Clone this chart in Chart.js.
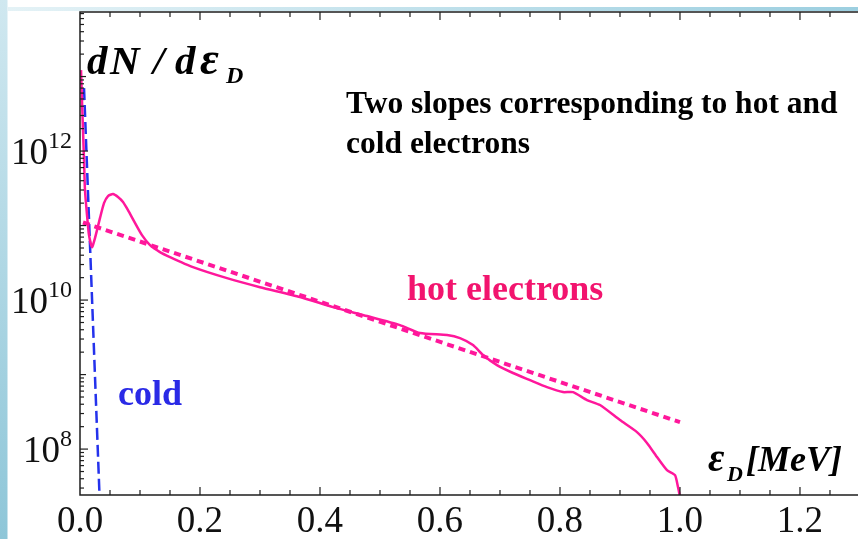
<!DOCTYPE html>
<html lang="en">
<head>
<meta charset="UTF-8">
<title>Electron energy spectrum</title>
<script src="https://cdn.jsdelivr.net/npm/chart.js"></script>
<style>
  html, body { margin: 0; padding: 0; background: #fff; }
  #wrap { width: 858px; height: 539px; position: relative; }
</style>
</head>
<body>
<div id="wrap"><canvas id="spectrumChart"></canvas></div>
<script>
  // measured spectrum dN/dE, energy in MeV
  const energy = [0.0017, 0.0033, 0.005, 0.0067, 0.0083, 0.0117, 0.015, 0.02, 0.025, 0.0333,
    0.04, 0.0467, 0.055, 0.0633, 0.0717, 0.08, 0.09, 0.1033, 0.1167, 0.1333,
    0.15, 0.1883, 0.245, 0.3, 0.3667, 0.4217, 0.4783, 0.5333, 0.5667, 0.6117,
    0.6333, 0.655, 0.6717, 0.695, 0.7217, 0.75, 0.7783, 0.805, 0.8217, 0.845,
    0.8667, 0.9, 0.9283, 0.945, 0.9617, 0.9783, 0.9917, 0.9967, 1.0];
  const hotCounts = [1.22e13, 4.84e12, 1.91e12, 7.57e11, 3.00e11, 1.38e11, 7.45e10, 5.14e10, 6.79e10, 1.26e11,
    2.00e11, 2.49e11, 2.65e11, 2.42e11, 2.07e11, 1.61e11, 1.15e11, 7.45e10, 5.47e10, 4.41e10,
    3.78e10, 2.77e10, 1.97e10, 1.49e10, 1.10e10, 8.05e9, 6.10e9, 4.61e9, 3.61e9, 3.39e9,
    3.09e9, 2.49e9, 1.83e9, 1.34e9, 1.05e9, 8.43e8, 6.79e8, 5.82e8, 5.82e8, 4.55e8,
    3.90e8, 2.45e8, 1.69e8, 1.21e8, 7.82e7, 5.22e7, 4.48e7, 3.09e7, 2.27e7];

  // exponential fits (straight lines on the log axis)
  const hotFitEnergy = [0.005, 1.0];
  const hotFitCounts = [1.10e11, 2.30e8];
  const coldFitEnergy = [0.0067, 0.0325];
  const coldFitCounts = [7.0e12, 2.42e7];

  const xLabelValues = [0, 0.2, 0.4, 0.6, 0.8, 1.0, 1.2];
  const yLabelPowers = [8, 10, 12];

  const pink = '#ff179b';
  const blue = '#2432ec';
  const frameColor = '#1e1e1e';
  const serif = '"Liberation Serif", "Times New Roman", serif';

  function toPoints(xs, ys) {
    return xs.map((x, i) => ({ x: x, y: ys[i] }));
  }

  function isLabelled(v) {
    return xLabelValues.some(l => Math.abs(l - v) < 1e-6);
  }

  // slide background: blue strip on the left and thin band along the top
  const backdrop = {
    id: 'backdrop',
    beforeDraw(chart) {
      const ctx = chart.ctx;
      ctx.save();
      let g = ctx.createLinearGradient(0, 0, 0, chart.height);
      g.addColorStop(0, '#d0e8f0');
      g.addColorStop(1, '#8ec6d8');
      ctx.fillStyle = g;
      ctx.fillRect(0, 0, 7.5, chart.height);
      g = ctx.createLinearGradient(7.5, 0, chart.width, 0);
      g.addColorStop(0, '#e4f2f6');
      g.addColorStop(1, '#9ccfe0');
      ctx.fillStyle = g;
      ctx.fillRect(7.5, 7, chart.width, 4);
      ctx.restore();
    }
  };

  // Mathematica-style frame with inward ticks, y labels and annotations
  const frame = {
    id: 'frame',
    afterDraw(chart) {
      const ctx = chart.ctx;
      const a = chart.chartArea;
      const xs = chart.scales.x;
      const ys = chart.scales.y;
      ctx.save();
      ctx.strokeStyle = frameColor;
      ctx.lineWidth = 1.5;
      ctx.beginPath();
      ctx.moveTo(chart.width, a.top);
      ctx.lineTo(a.left, a.top);
      ctx.lineTo(a.left, a.bottom);
      ctx.lineTo(chart.width, a.bottom);
      ctx.stroke();

      // x ticks, bottom and top
      ctx.lineWidth = 1.2;
      xs.ticks.forEach(t => {
        const px = xs.getPixelForValue(t.value);
        if (px <= a.left + 1) return;
        const len = isLabelled(t.value) ? 8 : 5;
        ctx.beginPath();
        ctx.moveTo(px, a.bottom);
        ctx.lineTo(px, a.bottom - len);
        ctx.moveTo(px, a.top);
        ctx.lineTo(px, a.top + len);
        ctx.stroke();
      });

      // y ticks on the log axis
      for (let p = 7; p <= 13; p++) {
        for (let m = 1; m <= 9; m++) {
          const v = m * Math.pow(10, p);
          if (v < ys.min || v > ys.max) continue;
          const py = ys.getPixelForValue(v);
          const len = m === 1 ? (p % 2 === 0 ? 8 : 6) : 4;
          ctx.beginPath();
          ctx.moveTo(a.left, py);
          ctx.lineTo(a.left + len, py);
          ctx.stroke();
        }
      }

      // y labels 10^n
      ctx.fillStyle = '#111';
      ctx.textBaseline = 'alphabetic';
      yLabelPowers.forEach(p => {
        const py = ys.getPixelForValue(Math.pow(10, p));
        const right = a.left - 8;
        ctx.font = '24px ' + serif;
        const ew = ctx.measureText(String(p)).width;
        ctx.textAlign = 'left';
        ctx.fillText(String(p), right - ew, py - 3);
        ctx.font = '37px ' + serif;
        ctx.textAlign = 'right';
        ctx.fillText('10', right - ew, py + 13);
      });

      // axis captions
      ctx.textAlign = 'left';
      ctx.fillStyle = '#000';
      ctx.font = 'bold italic 41px ' + serif;
      ctx.fillText('d', 87, 74);
      ctx.fillText('N', 110, 74);
      ctx.fillText('/', 153, 74);
      ctx.fillText('d', 175, 74);
      ctx.font = 'bold italic 46px ' + serif;
      ctx.fillText('\u03b5', 200, 74);
      ctx.font = 'bold italic 24px ' + serif;
      ctx.fillText('D', 226, 83);

      ctx.font = 'bold italic 40px ' + serif;
      ctx.fillText('\u03b5', 708, 471);
      ctx.font = 'bold italic 36px ' + serif;
      ctx.fillText('[MeV]', 746, 471);
      ctx.font = 'bold italic 22px ' + serif;
      ctx.fillText('D', 727, 481);

      // annotations
      ctx.font = 'bold 31.5px ' + serif;
      ctx.fillText('Two slopes corresponding to hot and', 346, 113);
      ctx.fillText('cold electrons', 346, 153);
      ctx.font = 'bold 36px ' + serif;
      ctx.fillStyle = '#f2146e';
      ctx.fillText('hot electrons', 407, 300);
      ctx.fillStyle = '#2a2ae6';
      ctx.fillText('cold', 118, 405);
      ctx.restore();
    }
  };

  new Chart(document.getElementById('spectrumChart'), {
    type: 'line',
    data: {
      datasets: [
        {
          label: 'spectrum',
          data: toPoints(energy, hotCounts),
          borderColor: pink,
          borderWidth: 2.5,
          pointRadius: 0,
          tension: 0.2
        },
        {
          label: 'hot fit',
          data: toPoints(hotFitEnergy, hotFitCounts),
          borderColor: pink,
          borderWidth: 4,
          borderDash: [7, 5],
          pointRadius: 0
        },
        {
          label: 'cold fit',
          data: toPoints(coldFitEnergy, coldFitCounts),
          borderColor: blue,
          borderWidth: 2.5,
          borderDash: [12, 5],
          pointRadius: 0
        }
      ]
    },
    options: {
      responsive: true,
      maintainAspectRatio: false,
      animation: false,
      layout: { padding: { top: 12, left: 0, right: 0, bottom: 0 } },
      plugins: {
        legend: { display: false },
        tooltip: { enabled: false }
      },
      scales: {
        x: {
          type: 'linear',
          min: 0,
          max: 1.2967,
          grid: { display: false, drawTicks: false },
          border: { display: false },
          ticks: {
            stepSize: 0.05,
            includeBounds: false,
            autoSkip: false,
            maxRotation: 0,
            padding: 5,
            color: '#111',
            font: { family: serif, size: 37 },
            callback: v => isLabelled(v) ? v.toFixed(1) : ''
          },
          afterFit: s => { s.height = 44; }
        },
        y: {
          type: 'logarithmic',
          min: 2.42e7,
          max: 7.35e13,
          grid: { display: false, drawTicks: false },
          border: { display: false },
          ticks: { display: false },
          afterFit: s => { s.width = 80; }
        }
      }
    },
    plugins: [backdrop, frame]
  });
</script>
</body>
</html>
